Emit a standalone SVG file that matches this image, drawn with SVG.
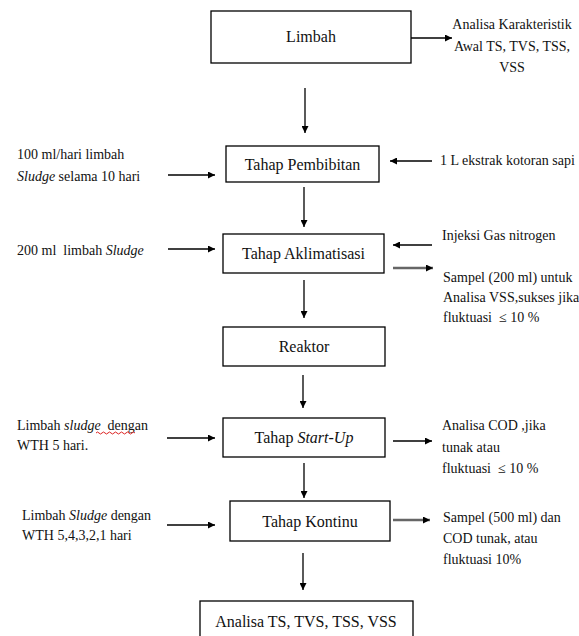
<svg xmlns="http://www.w3.org/2000/svg" width="579" height="636" viewBox="0 0 579 636">
<defs>
<marker id="ah" viewBox="0 0 10 10" refX="10" refY="5" markerWidth="8" markerHeight="7" markerUnits="userSpaceOnUse" orient="auto">
<path d="M0,0 L10,5 L0,10 Z" fill="#000"/>
</marker>
</defs>
<rect width="579" height="636" fill="#fff"/>
<g id="connectors" fill="none" marker-end="url(#ah)">
<g stroke="#000" stroke-width="1.3">
<line x1="411" y1="38" x2="452" y2="38"/>
<line x1="305" y1="88" x2="305" y2="133"/>
<line x1="168" y1="175" x2="215" y2="175"/>
<line x1="432" y1="161" x2="390" y2="161"/>
<line x1="304" y1="187" x2="304" y2="227"/>
<line x1="168" y1="249" x2="215" y2="249"/>
<line x1="432" y1="245" x2="393" y2="245"/>
<line x1="304" y1="280" x2="304" y2="318"/>
<line x1="303" y1="375" x2="303" y2="408"/>
<line x1="167" y1="438" x2="215" y2="438"/>
<line x1="393" y1="441" x2="432" y2="441"/>
<line x1="304" y1="463" x2="304" y2="498"/>
<line x1="167" y1="525" x2="215" y2="525"/>
<line x1="303" y1="553" x2="303" y2="590"/>
</g>
<g stroke="#666" stroke-width="2.4">
<line x1="393" y1="268" x2="433" y2="268"/>
<line x1="393" y1="520" x2="430" y2="520"/>
</g>
</g>
<g fill="#fff" stroke="#000" stroke-width="1.3">
<rect id="box-limbah" x="211" y="11" width="200" height="52"/>
<rect id="box-pembibitan" x="226" y="146" width="153" height="36"/>
<rect id="box-aklimatisasi" x="223" y="234" width="161" height="39"/>
<rect id="box-reaktor" x="223" y="327" width="162" height="39"/>
<rect id="box-startup" x="223" y="418" width="162" height="39"/>
<rect id="box-kontinu" x="230" y="501" width="160" height="40"/>
<rect id="box-akhir" x="200" y="601" width="213" height="50"/>
</g>
<g id="limbah">
<text font-family="Liberation Serif" font-size="16" fill="#111" text-anchor="middle" x="311" y="42">Limbah</text>
</g>
<g id="analisa-awal">
<text font-family="Liberation Serif" font-size="14" fill="#111" x="512" y="29" text-anchor="middle">Analisa Karakteristik</text>
<text font-family="Liberation Serif" font-size="14" fill="#111" x="512" y="51" text-anchor="middle">Awal TS, TVS, TSS,</text>
<text font-family="Liberation Serif" font-size="14" fill="#111" x="512" y="72" text-anchor="middle">VSS</text>
</g>
<g id="pembibitan">
<text font-family="Liberation Serif" font-size="16" fill="#111" text-anchor="middle" x="302.5" y="170">Tahap Pembibitan</text>
</g>
<g id="input-pembibitan">
<text font-family="Liberation Serif" font-size="14" fill="#111" x="17" y="159">100 ml/hari limbah</text>
<text font-family="Liberation Serif" font-size="14" fill="#111" x="17" y="181"><tspan font-style="italic">Sludge</tspan> selama 10 hari</text>
</g>
<g id="kotoran-sapi">
<text font-family="Liberation Serif" font-size="14" fill="#111" x="440" y="165">1 L ekstrak kotoran sapi</text>
</g>
<g id="aklimatisasi">
<text font-family="Liberation Serif" font-size="16" fill="#111" text-anchor="middle" x="303.5" y="259">Tahap Aklimatisasi</text>
</g>
<g id="input-aklimatisasi">
<text font-family="Liberation Serif" font-size="14" fill="#111" x="17" y="255" xml:space="preserve">200 ml  limbah <tspan font-style="italic">Sludge</tspan></text>
</g>
<g id="nitrogen">
<text font-family="Liberation Serif" font-size="14" fill="#111" x="442" y="240">Injeksi Gas nitrogen</text>
</g>
<g id="sampel-200">
<text font-family="Liberation Serif" font-size="14" fill="#111" x="443" y="282">Sampel (200 ml) untuk</text>
<text font-family="Liberation Serif" font-size="14" fill="#111" x="443" y="302">Analisa VSS,sukses jika</text>
<text font-family="Liberation Serif" font-size="14" fill="#111" x="443" y="322" xml:space="preserve">fluktuasi  ≤ 10 %</text>
</g>
<g id="reaktor">
<text font-family="Liberation Serif" font-size="16" fill="#111" text-anchor="middle" x="304" y="352">Reaktor</text>
</g>
<g id="startup">
<text font-family="Liberation Serif" font-size="16" fill="#111" text-anchor="middle" x="304" y="443">Tahap <tspan font-style="italic">Start-Up</tspan></text>
</g>
<g id="input-startup">
<text font-family="Liberation Serif" font-size="14" fill="#111" x="17" y="430" xml:space="preserve">Limbah <tspan font-style="italic">sludge</tspan>  dengan</text>
<path d="M96,433 q1.5,-2 3,0 t3,0 t3,0 t3,0 t3,0 t3,0 t3,0 t3,0 t3,0 t3,0 t3,0 t3,0 t3,0" stroke="#d22" stroke-width="1" fill="none"/>
<text font-family="Liberation Serif" font-size="14" fill="#111" x="17" y="450">WTH 5 hari.</text>
</g>
<g id="analisa-cod">
<text font-family="Liberation Serif" font-size="14" fill="#111" x="442" y="430">Analisa COD ,jika</text>
<text font-family="Liberation Serif" font-size="14" fill="#111" x="442" y="452">tunak atau</text>
<text font-family="Liberation Serif" font-size="14" fill="#111" x="442" y="473" xml:space="preserve">fluktuasi  ≤ 10 %</text>
</g>
<g id="kontinu">
<text font-family="Liberation Serif" font-size="16" fill="#111" text-anchor="middle" x="310" y="527">Tahap Kontinu</text>
</g>
<g id="input-kontinu">
<text font-family="Liberation Serif" font-size="14" fill="#111" x="22" y="520">Limbah <tspan font-style="italic">Sludge</tspan> dengan</text>
<text font-family="Liberation Serif" font-size="14" fill="#111" x="22" y="540">WTH 5,4,3,2,1 hari</text>
</g>
<g id="sampel-500">
<text font-family="Liberation Serif" font-size="14" fill="#111" x="443" y="522">Sampel (500 ml) dan</text>
<text font-family="Liberation Serif" font-size="14" fill="#111" x="443" y="543">COD tunak, atau</text>
<text font-family="Liberation Serif" font-size="14" fill="#111" x="443" y="564">fluktuasi 10%</text>
</g>
<g id="analisa-akhir">
<text font-family="Liberation Serif" font-size="16" fill="#111" text-anchor="middle" x="306" y="627">Analisa TS, TVS, TSS, VSS</text>
</g>
</svg>
